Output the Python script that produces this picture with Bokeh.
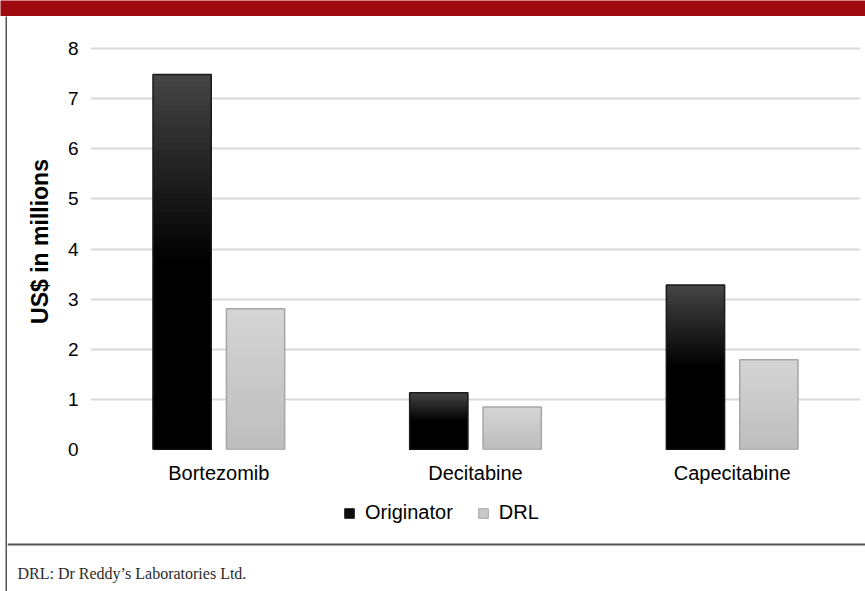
from bokeh.plotting import figure
from bokeh.layouts import column, row
from bokeh.models import (ColumnDataSource, FactorRange, Range1d, Legend, LegendItem,
                          Label, Span)
from bokeh.transform import dodge
from bokeh.embed import file_html
from bokeh.resources import INLINE

categories = ["Bortezomib", "Decitabine", "Capecitabine"]
originator = [7.48, 1.13, 3.28]
drl = [2.81, 0.85, 1.79]
series_names = ["Originator", "DRL"]
y_ticks = [0, 1, 2, 3, 4, 5, 6, 7, 8]
footnote = "DRL: Dr Reddy\u2019s Laboratories Ltd."

W, H = 865, 591
BANNER_H, GAP_W, RULE_W = 16, 5, 2
LINE_W = GAP_W + RULE_W
MAIN_H, LEG_H = 474, 40
FOOT_H = H - BANNER_H - MAIN_H - LEG_H
INNER_W = W - LINE_W
FRAME_COL = "#555555"


def blank(width, height, bg="white"):
    f = figure(width=width, height=height, output_backend="svg", toolbar_location=None,
               x_range=Range1d(0, width), y_range=Range1d(0, height),
               min_border=0, min_border_left=0, min_border_right=0,
               min_border_top=0, min_border_bottom=0)
    f.axis.visible = False
    f.grid.visible = False
    f.outline_line_color = None
    f.background_fill_color = bg
    f.border_fill_color = bg
    return f


def lerp(c1, c2, t):
    a = [int(c1[i:i + 2], 16) for i in (1, 3, 5)]
    b = [int(c2[i:i + 2], 16) for i in (1, 3, 5)]
    return "#%02x%02x%02x" % tuple(round(a[j] + (b[j] - a[j]) * t) for j in range(3))


def slices(values, shade, n=60):
    # overlapping bands, largest first, so the visible top band of each carries the shade
    d = dict(cat=[], top=[], color=[])
    for k in range(n):
        for c, v in zip(categories, values):
            d["cat"].append(c)
            d["top"].append(v * (n - k) / n)
            d["color"].append(shade((k + 0.5) / n))
    return ColumnDataSource(d)


def orig_shade(t):
    return lerp("#454545", "#000000", min(t / 0.5, 1.0))


def drl_shade(t):
    return lerp("#d5d5d5", "#bdbdbd", t)


# ---- banner
banner = blank(W, BANNER_H, bg="#9f0a10")

# ---- left frame rule, one piece for everything under the banner
rule = row(blank(GAP_W, H - BANNER_H), blank(RULE_W, H - BANNER_H, bg=FRAME_COL), spacing=0)

# ---- main chart
p = figure(width=INNER_W, height=MAIN_H, x_range=FactorRange(*categories),
           y_range=Range1d(0, 8.3), output_backend="svg", toolbar_location=None,
           min_border_left=83, min_border_right=5, min_border_top=17, min_border_bottom=41)
p.outline_line_color = None

off, bw = 0.143, 0.227
p.vbar(x=dodge("cat", -off, range=p.x_range), bottom=0, top="top", width=bw,
       source=slices(originator, orig_shade), fill_color="color", line_color=None)
p.vbar(x=dodge("cat", off, range=p.x_range), bottom=0, top="top", width=bw,
       source=slices(drl, drl_shade), fill_color="color", line_color=None)
p.vbar(x=dodge("cat", -off, range=p.x_range), top="top", bottom=0, width=bw,
       source=ColumnDataSource(dict(cat=categories, top=originator)),
       fill_color=None, line_color="#1a1a1a", line_width=1.5)
p.vbar(x=dodge("cat", off, range=p.x_range), top="top", bottom=0, width=bw,
       source=ColumnDataSource(dict(cat=categories, top=drl)),
       fill_color=None, line_color="#a6a6a6", line_width=1.5)

p.yaxis.ticker = y_ticks
p.ygrid.ticker = y_ticks
p.ygrid.grid_line_color = "#d9d9d9"
p.ygrid.grid_line_width = 2
p.xgrid.grid_line_color = None
for ax in (p.xaxis[0], p.yaxis[0]):
    ax.axis_line_color = None
    ax.major_tick_line_color = None
    ax.minor_tick_line_color = None
    ax.major_tick_out = 0
    ax.major_tick_in = 0
    ax.minor_tick_out = 0
    ax.major_label_text_font = "Liberation Sans"
    ax.major_label_text_color = "#000000"
p.yaxis.major_label_text_font_size = "19px"
p.yaxis.major_label_standoff = 12
p.xaxis.major_label_text_font_size = "20px"
p.xaxis.major_label_standoff = 12
p.yaxis.axis_label = "US$ in millions"
p.yaxis.axis_label_text_font = "Liberation Sans"
p.yaxis.axis_label_text_font_style = "bold"
p.yaxis.axis_label_text_font_size = "23px"
p.yaxis.axis_label_text_color = "#000000"
p.yaxis.axis_label_standoff = 12

# ---- legend strip (its frame lines up with the chart frame)
lg = figure(width=INNER_W, height=LEG_H, output_backend="svg", toolbar_location=None,
            x_range=Range1d(0, 1), y_range=Range1d(0, 1),
            min_border_left=83, min_border_right=5, min_border_top=0, min_border_bottom=0)
lg.axis.visible = False
lg.grid.visible = False
lg.outline_line_color = None
leg_src = ColumnDataSource(dict(x=[0.5], top=[0.0]))
lo = lg.vbar(x="x", top="top", width=0.0, source=leg_src, fill_color="#0d0d0d",
             line_color="#1a1a1a", line_width=1, visible=False)
ld = lg.vbar(x="x", top="top", width=0.0, source=leg_src, fill_color="#c9c9c9",
             line_color="#a6a6a6", line_width=1, visible=False)
legend = Legend(items=[LegendItem(label=series_names[0], renderers=[lo]),
                       LegendItem(label=series_names[1], renderers=[ld])],
                orientation="horizontal", location=(253, 6),
                glyph_width=12, glyph_height=12, label_standoff=10, spacing=24,
                padding=0, margin=0, border_line_color=None, background_fill_alpha=0,
                inactive_fill_alpha=0,
                label_text_font="Liberation Sans", label_text_font_size="20px",
                label_text_color="#000000")
lg.add_layout(legend, "center")

# ---- footnote strip
ft = blank(INNER_W, FOOT_H)
ft.add_layout(Span(location=FOOT_H - 14, dimension="width", line_color=FRAME_COL,
                   line_width=2))
ft.add_layout(Label(x=10, y=FOOT_H - 43, text=footnote, text_font="Liberation Serif",
                    text_font_size="16px", text_color="#2b2b2b", text_baseline="middle",
                    text_align="left"))

layout = column(
    banner,
    row(rule, column(column(p, lg, spacing=0), ft, spacing=0), spacing=0),
    spacing=0)
open("out.html", "w").write(file_html(layout, INLINE))
